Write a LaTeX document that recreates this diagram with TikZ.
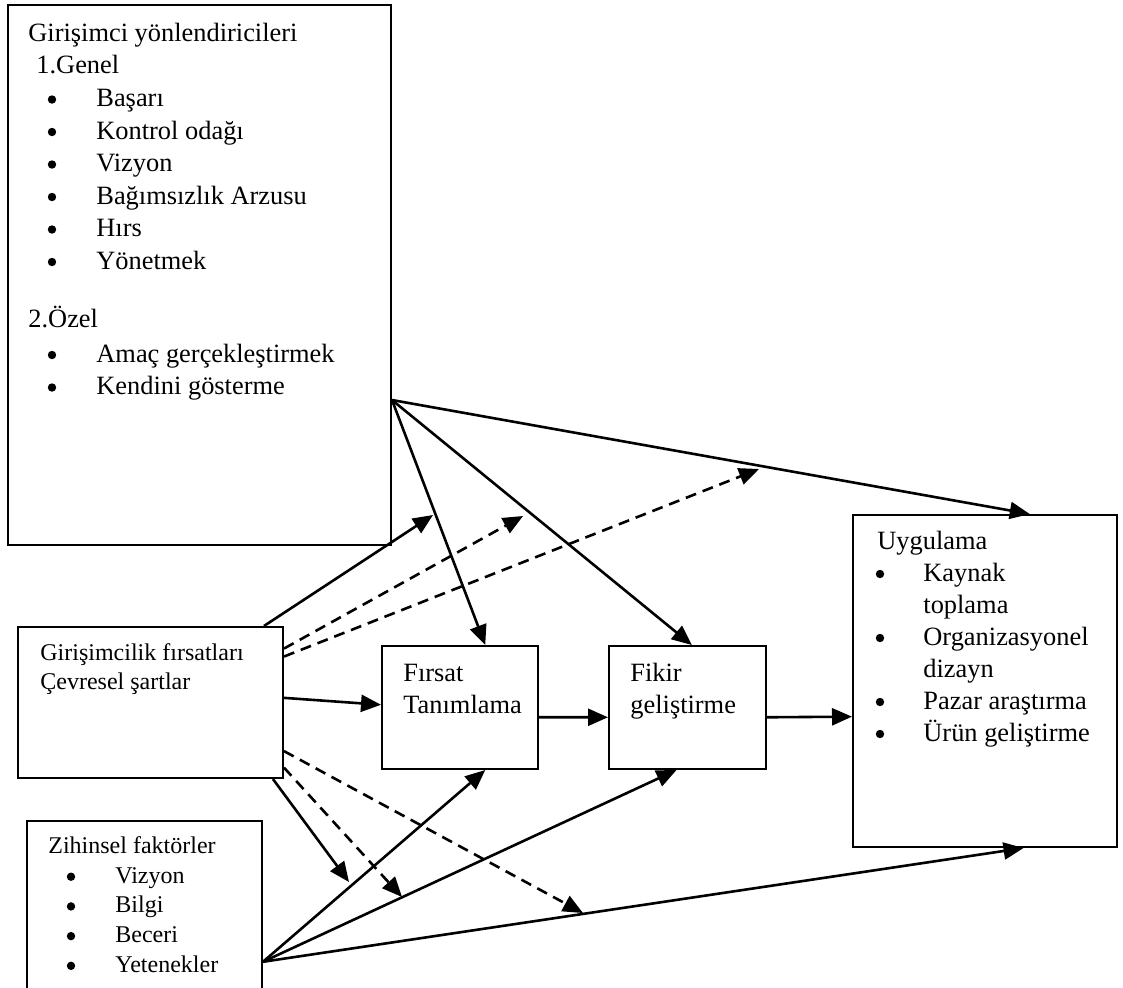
\documentclass[tikz,border=0pt]{standalone}
\usepackage{fontspec}
\setmainfont{Liberation Serif}
\usetikzlibrary{arrows.meta,fit,positioning}
\tikzset{
    box/.style={draw, line width=1pt, inner sep=0pt},
    txt/.style={anchor=base west, inner sep=0pt, font=\fontsize{13.2}{16}\selectfont},
    stxt/.style={anchor=base west, inner sep=0pt, font=\fontsize{12}{15}\selectfont},
    dot/.style={circle, fill, inner sep=0pt, minimum size=4.2pt},
    arr/.style={line width=1.3pt, -{Triangle[length=10pt,width=8.5pt]}},
    darr/.style={arr, dash pattern=on 5.5pt off 3.5pt}
}

\begin{document}
\begin{tikzpicture}[x=0.5pt,y=-0.5pt]
  \useasboundingbox (0,0) rectangle (1123,987);

  \node (gy) [box, fit={(8,5) (391,545)}] {};
  \node (gf) [box, fit={(18,627) (283,778)}] {};
  \node (zf) [box, fit={(27,821) (262,992)}] {};
  \node (ft) [box, fit={(382,646) (538,769)}] {};
  \node (fg) [box, fit={(609,646) (766,769)}] {};
  \node (uy) [box, fit={(853,515) (1117,847)}] {};

  \node (gyt) [txt] at (28,41) {Girişimci yönlendiricileri};
  \node (gy1) [txt] at (36,73) {1.Genel};
  \foreach \t [count=\i] in {Başarı, Kontrol odağı, Vizyon, Bağımsızlık Arzusu, Hırs, Yönetmek} {
    \node (gyb\i) [dot] at (52,{67+32.5*\i}) {};
    \node (gya\i) [txt] at (96,{74+32.5*\i}) {\t};
  }
  \node (gy2) [txt] at (28,327) {2.Özel};
  \foreach \t [count=\i] in {Amaç gerçekleştirmek, Kendini gösterme} {
    \node (gyd\i) [dot] at (52,{322.5+32.5*\i}) {};
    \node (gyc\i) [txt] at (96,{329.5+32.5*\i}) {\t};
  }

  \node (gft1) [stxt] at (40,660) {Girişimcilik fırsatları};
  \node (gft2) [stxt] at (40,689) {Çevresel şartlar};

  \node (zft) [stxt] at (48,853) {Zihinsel faktörler};
  \foreach \t [count=\i] in {Vizyon, Bilgi, Beceri, Yetenekler} {
    \node (zfb\i) [dot] at (71,{847+29.7*\i}) {};
    \node (zfa\i) [stxt] at (115,{853.3+29.7*\i}) {\t};
  }

  \node (ftt1) [txt] at (403,681) {Fırsat};
  \node (ftt2) [txt] at (403,713) {Tanımlama};
  \node (fgt1) [txt] at (630,681) {Fikir};
  \node (fgt2) [txt] at (630,713) {geliştirme};

  \node (uyt) [txt] at (877,549) {Uygulama};
  \foreach \y in {581,645,709,741}
    \node (uyb\y) [dot] at (880,\y-7) {};
  \node (uya1) [txt] at (923,581) {Kaynak};
  \node (uya2) [txt] at (923,613) {toplama};
  \node (uya3) [txt] at (923,645) {Organizasyonel};
  \node (uya4) [txt] at (923,677) {dizayn};
  \node (uya5) [txt] at (923,709) {Pazar araştırma};
  \node (uya6) [txt] at (923,741) {Ürün geliştirme};

  \coordinate (up1) at (433,515);
  \coordinate (up2) at (523,516);
  \coordinate (up3) at (759,469);
  \coordinate (dn1) at (349,882);
  \coordinate (dn2) at (402,897);
  \coordinate (dn3) at (583,913);

  \draw[arr] (gy.-33) -- (ft.68);
  \draw[arr] (gy.-33) -- (fg.86);
  \draw[arr] (gy.-33) -- (uy.75);

  \draw[arr] (gf.34) -- (up1);
  \draw[darr] (gf.22.7) -- (up2);
  \draw[darr] (gf.19.7) -- (up3);
  \draw[arr] (gf.2.4) -- (ft.178);
  \draw[darr] (gf.-20.9) -- (dn3);
  \draw[darr] (gf.-26.3) -- (dn2);
  \draw[arr] (gf.-32.5) -- (dn1);

  \draw[arr] (ft.-7) -- (fg.187);
  \draw[arr] (fg.-7) -- (uy.195);

  \draw[arr] (zf.-25.7) -- (ft.-68);
  \draw[arr] (zf.-25.7) -- (fg.-100);
  \draw[arr] (zf.-25.7) -- (uy.-77);
\end{tikzpicture}
\end{document}
